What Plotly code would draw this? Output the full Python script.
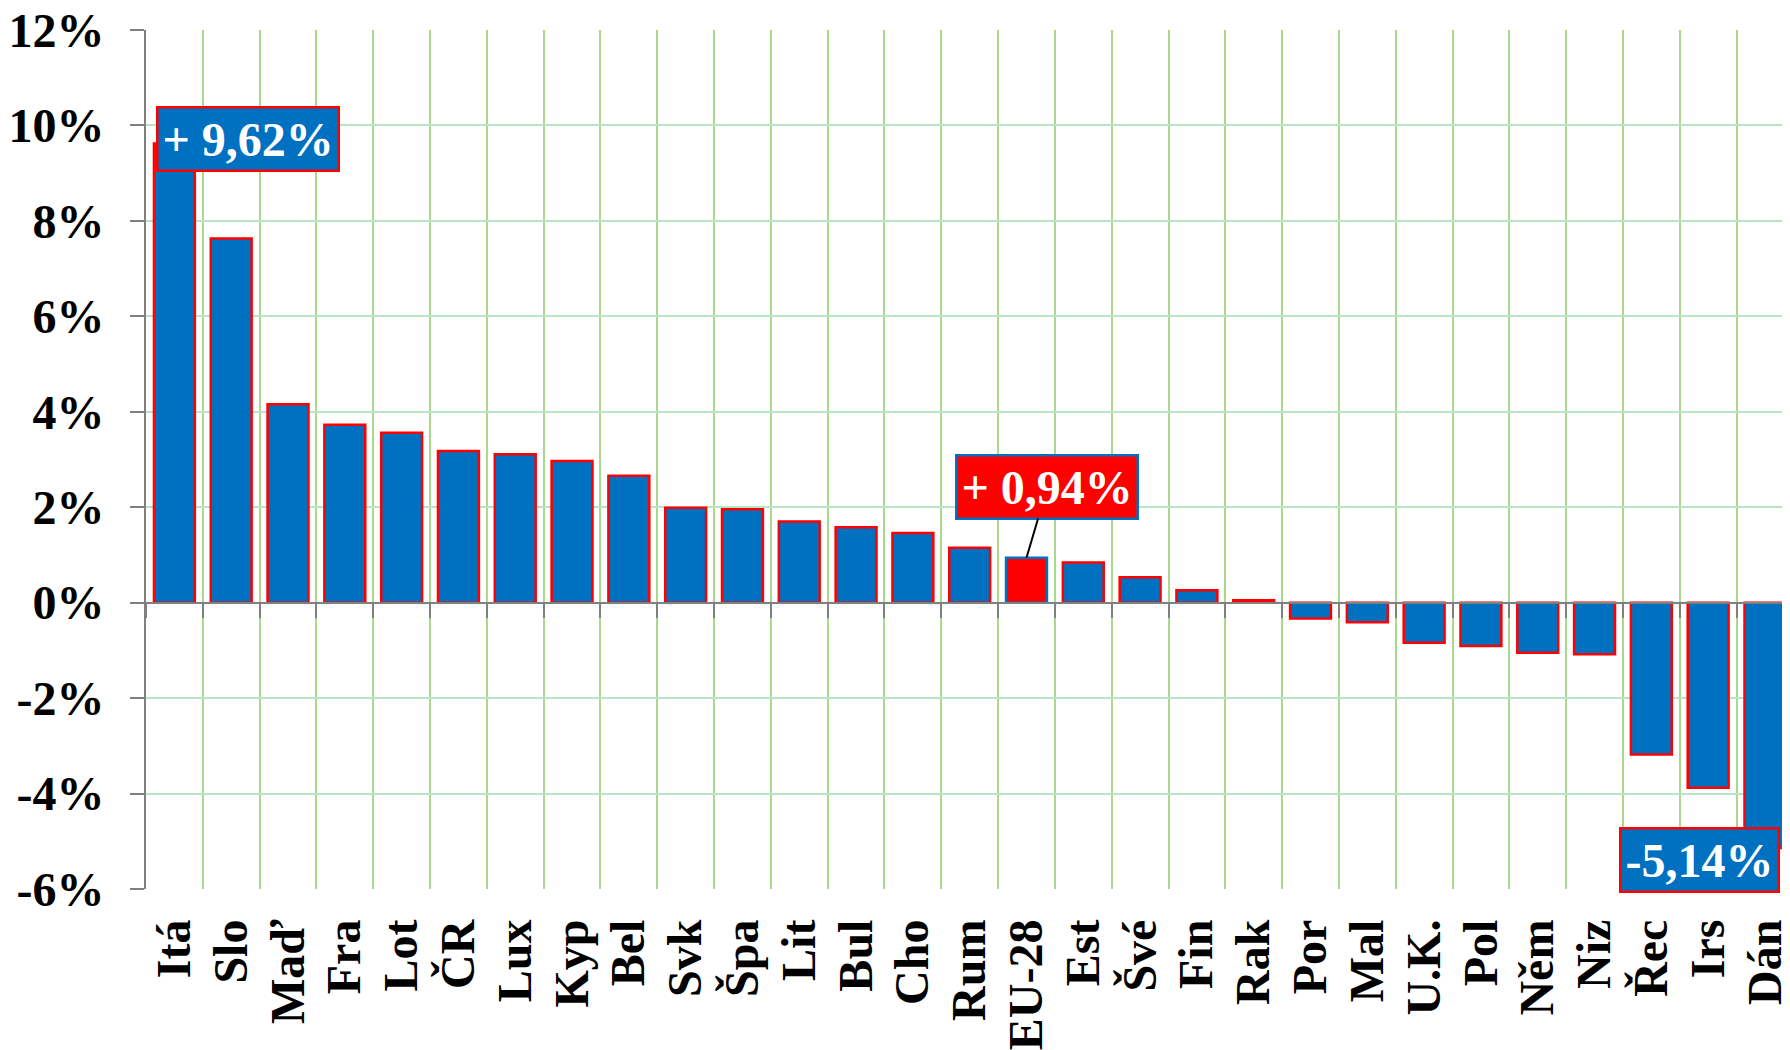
import plotly.graph_objects as go

categories = ["Itá", "Slo", "Maď", "Fra", "Lot", "ČR", "Lux", "Kyp", "Bel", "Svk",
              "Špa", "Lit", "Bul", "Cho", "Rum", "EU-28", "Est", "Švé", "Fin", "Rak",
              "Por", "Mal", "U.K.", "Pol", "Něm", "Niz", "Řec", "Irs", "Dán"]
values = [9.62, 7.63, 4.16, 3.73, 3.56, 3.18, 3.11, 2.97, 2.66, 1.99,
          1.96, 1.70, 1.58, 1.46, 1.15, 0.94, 0.84, 0.53, 0.26, 0.05,
          -0.33, -0.41, -0.84, -0.91, -1.05, -1.08, -3.18, -3.88, -5.14]
highlight = "EU-28"
y_tickvals = [-6, -4, -2, 0, 2, 4, 6, 8, 10, 12]
y_ticktext = ["-6%", "-4%", "-2%", "0%", "2%", "4%", "6%", "8%", "10%", "12%"]

BLUE = "#0070C0"
RED = "#FF0000"
FONT = "Liberation Serif, Times New Roman, serif"

fill = [RED if c == highlight else BLUE for c in categories]
edge = [BLUE if c == highlight else RED for c in categories]


def fmt(v):
    s = f"{abs(v):.2f}".replace(".", ",") + "%"
    return ("+ " + s) if v >= 0 else ("-" + s)


fig = go.Figure()
fig.add_trace(go.Bar(
    x=categories, y=values, width=0.72,
    marker=dict(color=fill, line=dict(color=edge, width=2.5)),
    hoverinfo="x+y", showlegend=False,
))
# invisible helper trace for the category axis drawn at the 0% line
fig.add_trace(go.Scatter(
    x=categories, y=values, xaxis="x2", mode="markers",
    marker=dict(opacity=0), hoverinfo="skip", showlegend=False,
))

xr = [-0.5, 28.30]
fig.update_layout(
    width=1790, height=1050,
    margin=dict(l=146, r=0, t=30, b=155),
    plot_bgcolor="white", paper_bgcolor="white",
    xaxis=dict(
        type="category", range=xr, tickson="boundaries",
        tickmode="array", tickvals=categories,
        showgrid=True, gridcolor="#A9D98B", gridwidth=1.5,
        ticks="", tickangle=-90, ticklabelstandoff=20,
        tickfont=dict(family=FONT, size=48, color="black", weight="bold"),
        showline=False, zeroline=False,
    ),
    xaxis2=dict(
        type="category", range=xr, overlaying="x", matches="x",
        anchor="free", position=1 / 3, side="bottom",
        tickmode="array", tickvals=categories,
        tickson="boundaries", ticks="outside", ticklen=14, tickwidth=2,
        tickcolor="#808080", showticklabels=False,
        showline=True, linecolor="#808080", linewidth=2,
        showgrid=False, zeroline=False,
    ),
    yaxis=dict(
        range=[-6.001, 12.001], tickmode="array",
        tickvals=y_tickvals, ticktext=y_ticktext,
        ticklabeloverflow="allow",
        showgrid=True, gridcolor="#B8E6C4", gridwidth=1.5,
        zeroline=False, showline=True, linecolor="#808080", linewidth=2,
        ticks="outside", ticklen=14, tickwidth=2, tickcolor="#808080",
        ticklabelstandoff=16,
        tickfont=dict(family=FONT, size=48, color="black", weight="bold"),
    ),
)

ann_font = dict(family=FONT, size=48, color="white")
i_max = values.index(max(values))
i_min = values.index(min(values))
i_eu = categories.index(highlight)

fig.add_annotation(
    x=-0.325, y=9.71, xref="x", yref="y", xanchor="left", yanchor="middle",
    text="<b>" + fmt(values[i_max]) + "</b>", showarrow=False,
    font=ann_font, bgcolor=BLUE, bordercolor=RED, borderwidth=2.5, borderpad=4,
)
fig.add_annotation(
    x=categories[i_eu], y=values[i_eu], xref="x", yref="y",
    text="<b>" + fmt(values[i_eu]) + "</b>", showarrow=True,
    arrowhead=0, arrowwidth=2, arrowcolor="black", ax=21, ay=-71, standoff=0,
    font=ann_font, bgcolor=RED, bordercolor=BLUE, borderwidth=2.5, borderpad=4,
)
fig.add_annotation(
    x=25.43, y=-5.40, xref="x", yref="y", xanchor="left", yanchor="middle",
    text="<b>" + fmt(values[i_min]) + "</b>", showarrow=False,
    font=ann_font, bgcolor=BLUE, bordercolor=RED, borderwidth=2.5, borderpad=4,
)

fig.write_html(
    "out.html",
    config={"displayModeBar": False},
    post_script="document.body.style.margin='0';document.body.style.overflow='hidden';",
)
